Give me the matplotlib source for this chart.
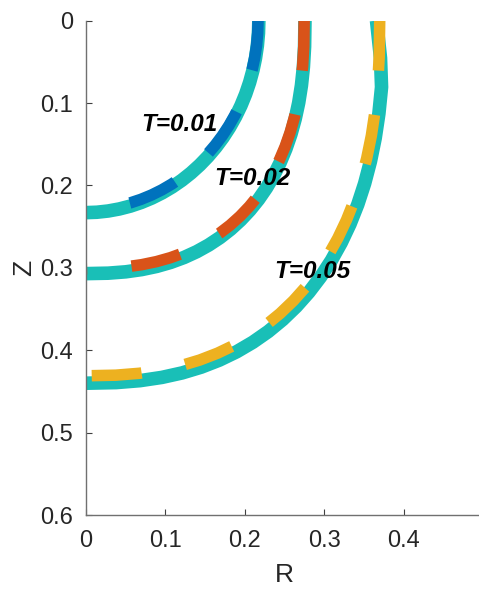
import matplotlib
matplotlib.use("Agg")
import matplotlib.pyplot as plt

plt.rcParams['font.family'] = ['Liberation Sans', 'DejaVu Sans']
plt.rcParams['lines.scale_dashes'] = False

# === Data (R, Z) ===
# cyan reference curves
r_ref_001 = [0.218, 0.21753, 0.21613, 0.21381, 0.21057, 0.20643, 0.20141, 0.19552, 0.18879, 0.18126,
             0.17295, 0.16390, 0.15415, 0.14374, 0.13271, 0.12111, 0.10900, 0.09642, 0.08342, 0.07007,
             0.05642, 0.04253, 0.02846, 0.01426, 0.0]
z_ref_001 = [0.0, 0.01524, 0.03041, 0.04546, 0.06031, 0.07490, 0.08916, 0.10305, 0.11650, 0.12945,
             0.14184, 0.15363, 0.16476, 0.17518, 0.18485, 0.19373, 0.20178, 0.20897, 0.21526, 0.22063,
             0.22506, 0.22852, 0.23101, 0.23250, 0.233]
r_ref_002 = [0.276, 0.27551, 0.27403, 0.27157, 0.26814, 0.26374, 0.25838, 0.25207, 0.24482, 0.23666,
             0.22758, 0.21761, 0.20677, 0.19507, 0.18251, 0.16912, 0.15489, 0.13985, 0.12396, 0.10719,
             0.08948, 0.07070, 0.05058, 0.02844, 0.0]
z_ref_002 = [0.0, 0.03163, 0.05626, 0.07864, 0.09954, 0.11923, 0.13788, 0.15556, 0.17229, 0.18812,
             0.20301, 0.21698, 0.23000, 0.24205, 0.25314, 0.26324, 0.27232, 0.28038, 0.28740, 0.29336,
             0.29826, 0.30208, 0.30481, 0.30645, 0.307]
r_ref_005 = [0.366, 0.371, 0.37232, 0.36899, 0.36432, 0.35834, 0.35106, 0.34248, 0.33264, 0.32154,
             0.30921, 0.29567, 0.28094, 0.26504, 0.24798, 0.22979, 0.21045, 0.19002, 0.16842, 0.14564,
             0.12158, 0.09606, 0.06873, 0.03864, 0.0]
z_ref_005 = [0.0, 0.04533, 0.08064, 0.11271, 0.14266, 0.17089, 0.19761, 0.22296, 0.24693, 0.26961,
             0.29096, 0.31098, 0.32964, 0.34692, 0.36280, 0.37728, 0.39029, 0.40185, 0.41191, 0.42046,
             0.42747, 0.43294, 0.43686, 0.43922, 0.440]

# dashed curves
r_001 = [0.217, 0.21654, 0.21514, 0.21283, 0.20961, 0.20548, 0.20048, 0.19462, 0.18793, 0.18043,
         0.17216, 0.16315, 0.15344, 0.14308, 0.13210, 0.12056, 0.10850, 0.09598, 0.08304, 0.06975,
         0.05616, 0.04233, 0.02833, 0.01419, 0.0]
z_001 = [0.0, 0.01498, 0.02989, 0.04468, 0.05927, 0.07361, 0.08763, 0.10128, 0.11450, 0.12723,
         0.13941, 0.15099, 0.16193, 0.17217, 0.18168, 0.19041, 0.19832, 0.20538, 0.21157, 0.21685,
         0.22120, 0.22460, 0.22704, 0.22851, 0.229]
r_002 = [0.275, 0.27451, 0.27304, 0.27059, 0.26717, 0.26278, 0.25744, 0.25115, 0.24393, 0.23580,
         0.22675, 0.21682, 0.20602, 0.19436, 0.18185, 0.16851, 0.15433, 0.13935, 0.12351, 0.10680,
         0.08916, 0.07044, 0.05040, 0.02833, 0.0]
z_002 = [0.0, 0.03101, 0.05516, 0.07710, 0.09759, 0.11690, 0.13519, 0.15252, 0.16892, 0.18444,
         0.19904, 0.21274, 0.22550, 0.23732, 0.24819, 0.25809, 0.26700, 0.27490, 0.28178, 0.28763,
         0.29243, 0.29617, 0.29885, 0.30046, 0.301]
r_005 = [0.370, 0.36934, 0.36736, 0.36407, 0.35946, 0.35356, 0.34638, 0.33792, 0.32820, 0.31726,
         0.30508, 0.29173, 0.27720, 0.26150, 0.24467, 0.22672, 0.20765, 0.18749, 0.16617, 0.14370,
         0.11996, 0.09478, 0.06781, 0.03812, 0.0]
z_005 = [0.0, 0.04441, 0.07899, 0.11040, 0.13974, 0.16739, 0.19357, 0.21840, 0.24188, 0.26410,
         0.28501, 0.30462, 0.32290, 0.33982, 0.35538, 0.36956, 0.38231, 0.39363, 0.40348, 0.41185,
         0.41873, 0.42409, 0.42792, 0.43023, 0.431]

labels = ['T=0.01', 'T=0.02', 'T=0.05']
label_r = [0.1176, 0.21, 0.2855]
label_z = [0.1266, 0.191, 0.3044]

# === Styling ===
ref_color = '#19BFB7'
dash_colors = ['#0072BD', '#D95319', '#EDB120']

fig = plt.figure(figsize=(4.79, 5.90), dpi=100)
ax = fig.add_axes([0.1785, 0.127, 0.830, 0.838])

refs = [(r_ref_001, z_ref_001), (r_ref_002, z_ref_002), (r_ref_005, z_ref_005)]
dashed = [(r_001, z_001), (r_002, z_002), (r_005, z_005)]

for (r, z) in refs:
    ax.plot(r, z, color=ref_color, lw=9.8, solid_capstyle='butt', solid_joinstyle='round')

for (r, z), c in zip(dashed, dash_colors):
    ax.plot(r, z, color=c, lw=8.3, dashes=(36, 32), dash_capstyle='butt')

for txt, x, y in zip(labels, label_r, label_z):
    ax.text(x, y, txt, fontsize=17.5, fontweight='bold', fontstyle='italic',
            ha='center', va='center', color='black')

ax.set_xlim(0, 0.5)
ax.set_ylim(0.6, 0)
ax.set_xticks([0, 0.1, 0.2, 0.3, 0.4])
ax.set_xticklabels(['0', '0.1', '0.2', '0.3', '0.4'])
ax.set_yticks([0, 0.1, 0.2, 0.3, 0.4, 0.5, 0.6])
ax.set_yticklabels(['0', '0.1', '0.2', '0.3', '0.4', '0.5', '0.6'])
ax.set_xlabel('R', fontsize=19, color='#262626', labelpad=8)
ax.set_ylabel('Z', fontsize=19, color='#262626', labelpad=3)

for side in ['top', 'right']:
    ax.spines[side].set_visible(False)
for side in ['left', 'bottom']:
    ax.spines[side].set_color('#707070')
    ax.spines[side].set_linewidth(1.0)
ax.tick_params(direction='in', length=4, width=0.8, color='#404040',
               labelsize=17, labelcolor='#262626')
ax.tick_params(axis='x', pad=11)
ax.tick_params(axis='y', pad=9)

fig.savefig('out.png', dpi=100)
